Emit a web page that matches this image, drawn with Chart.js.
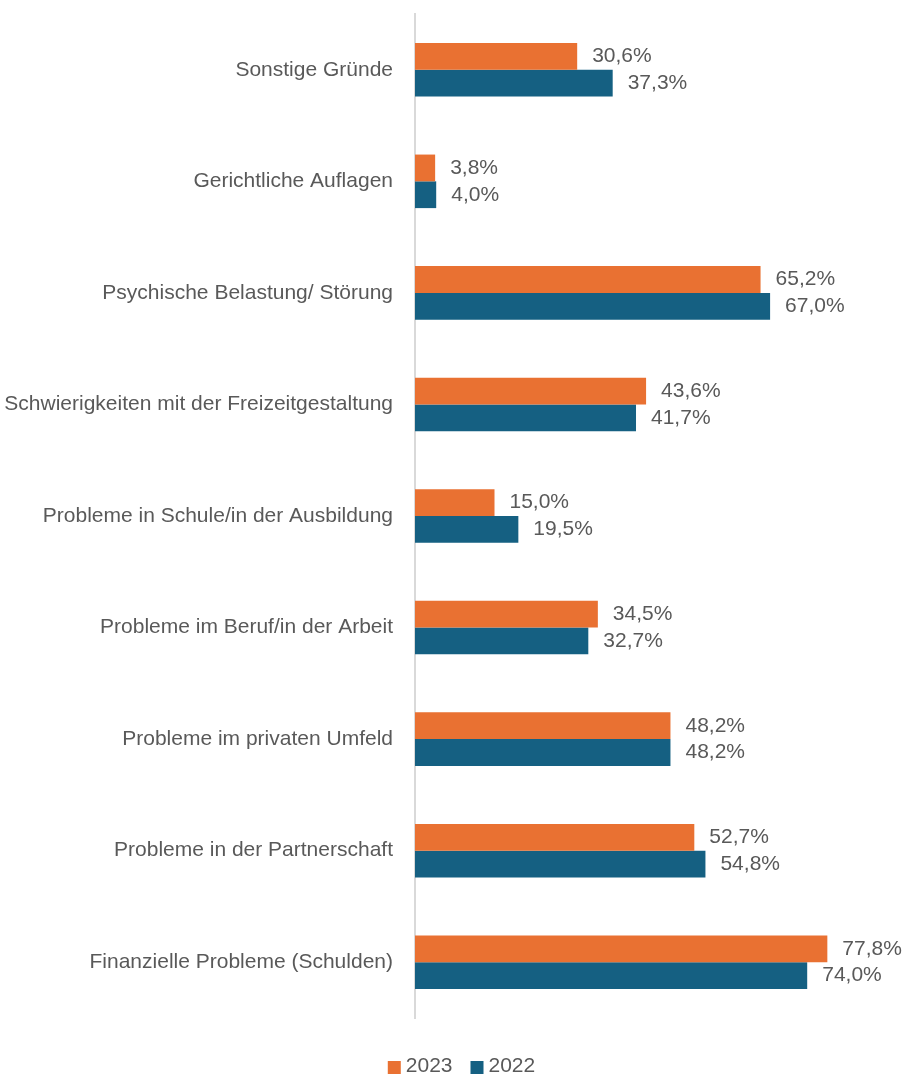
<!DOCTYPE html>
<html>
<head>
<meta charset="utf-8">
<script src="https://cdn.jsdelivr.net/npm/chart.js@4.4.1/dist/chart.umd.min.js"></script>
<style>
  html, body { margin: 0; padding: 0; background: #ffffff; }
  #wrap { position: relative; width: 907px; height: 1075px; }
</style>
</head>
<body>
<div id="wrap"><canvas id="c"></canvas></div>
<script>
const categories = [
  "Sonstige Gründe",
  "Gerichtliche Auflagen",
  "Psychische Belastung/ Störung",
  "Schwierigkeiten mit der Freizeitgestaltung",
  "Probleme in Schule/in der Ausbildung",
  "Probleme im Beruf/in der Arbeit",
  "Probleme im privaten Umfeld",
  "Probleme in der Partnerschaft",
  "Finanzielle Probleme (Schulden)"
];
const seriesNames = ["2023", "2022"];
const values2023 = [30.6, 3.8, 65.2, 43.6, 15.0, 34.5, 48.2, 52.7, 77.8];
const values2022 = [37.3, 4.0, 67.0, 41.7, 19.5, 32.7, 48.2, 54.8, 74.0];
const seriesColors = ["#E97132", "#156082"];

const FONT = "'Liberation Sans', Arial, sans-serif";
const TEXT_COLOR = "#595959";

const dataLabels = {
  id: "dataLabels",
  afterDatasetsDraw(chart) {
    const ctx = chart.ctx;
    ctx.save();
    ctx.font = "21px " + FONT;
    ctx.fillStyle = TEXT_COLOR;
    ctx.textAlign = "left";
    ctx.textBaseline = "middle";
    chart.data.datasets.forEach((ds, di) => {
      const meta = chart.getDatasetMeta(di);
      meta.data.forEach((bar, i) => {
        const v = ds.data[i];
        const txt = v.toFixed(1).replace(".", ",") + "%";
        ctx.fillText(txt, bar.x + 15, bar.y);
      });
    });
    ctx.restore();
  }
};

const customLegend = {
  id: "customLegend",
  afterDraw(chart) {
    const ctx = chart.ctx;
    ctx.save();
    ctx.font = "21px " + FONT;
    ctx.textBaseline = "middle";
    ctx.textAlign = "left";
    const box = 13, gapText = 5, gapItem = 18;
    const items = chart.data.datasets.map(ds => ({
      text: ds.label, color: ds.backgroundColor, w: ctx.measureText(ds.label).width
    }));
    let total = 0;
    items.forEach((it, i) => { total += box + gapText + it.w + (i < items.length - 1 ? gapItem : 0); });
    let x = chart.width / 2 + 8 - total / 2;
    const cy = 1066;
    items.forEach(it => {
      ctx.fillStyle = it.color;
      ctx.fillRect(x, cy - 5, box, box);
      x += box + gapText;
      ctx.fillStyle = TEXT_COLOR;
      ctx.fillText(it.text, x, cy);
      x += it.w + gapItem;
    });
    ctx.restore();
  }
};

new Chart(document.getElementById("c"), {
  type: "bar",
  data: {
    labels: categories,
    datasets: [
      { label: seriesNames[0], data: values2023, backgroundColor: seriesColors[0] },
      { label: seriesNames[1], data: values2022, backgroundColor: seriesColors[1] }
    ]
  },
  options: {
    indexAxis: "y",
    responsive: true,
    maintainAspectRatio: false,
    animation: false,
    layout: { padding: { top: 14, bottom: 57, left: 0, right: 15 } },
    datasets: { bar: { categoryPercentage: 0.48, barPercentage: 1.0 } },
    plugins: {
      legend: { display: false },
      tooltip: { enabled: false }
    },
    scales: {
      x: {
        display: false,
        min: 0,
        max: 90
      },
      y: {
        afterFit(axis) { axis.width = 415; },
        grid: {
          display: true,
          drawOnChartArea: false,
          drawTicks: true,
          tickLength: 22,
          tickColor: "rgba(0,0,0,0)"
        },
        border: { display: true, color: "#d9d9d9", width: 2 },
        ticks: {
          padding: 0,
          color: TEXT_COLOR,
          font: { family: FONT, size: 21 }
        }
      }
    }
  },
  plugins: [dataLabels, customLegend]
});
</script>
</body>
</html>
